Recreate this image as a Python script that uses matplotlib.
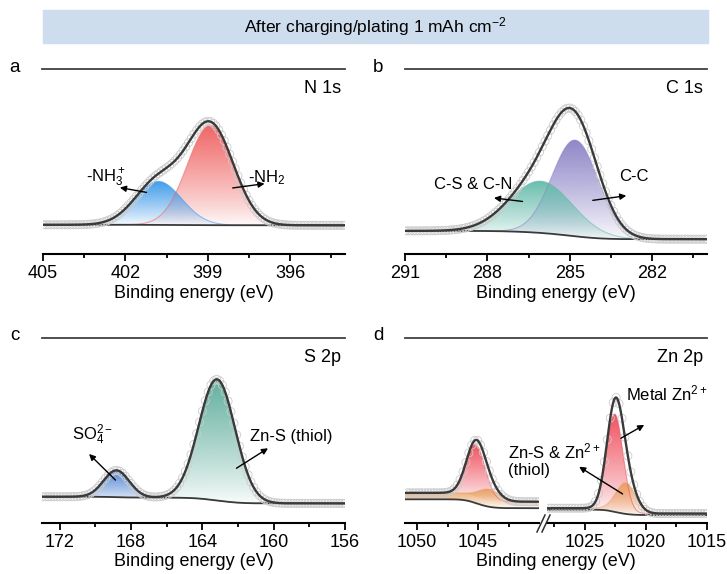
import matplotlib
matplotlib.use("Agg")
import matplotlib.pyplot as plt
import numpy as np
from matplotlib.colors import to_rgb
from matplotlib.lines import Line2D
from matplotlib.patches import Rectangle

plt.rcParams["font.family"] = ["Liberation Sans", "DejaVu Sans"]
plt.rcParams["mathtext.fontset"] = "custom"
plt.rcParams["mathtext.rm"] = "Liberation Sans"
plt.rcParams["mathtext.it"] = "Liberation Sans:italic"
plt.rcParams["mathtext.default"] = "regular"

W, H = 727, 574

# fitted peaks: centre (eV), height, sigma (eV); background at high / low BE end
n1s_names = ["-NH$_2$", "-NH$_3^+$"]
n1s_centers = [398.9, 400.8]
n1s_heights = [0.54, 0.235]
n1s_sigmas = [0.84, 0.85]
n1s_colors = ["#F06262", "#3F9BEA"]
n1s_bg = (0.158, 0.155)

c1s_names = ["C-C", "C-S & C-N"]
c1s_centers = [284.8, 286.05]
c1s_heights = [0.52, 0.28]
c1s_sigmas = [0.84, 1.15]
c1s_colors = ["#8C84C6", "#66BCAB"]
c1s_bg = (0.125, 0.08)

s2p_names = ["SO$_4^{2-}$", "Zn-S (thiol)"]
s2p_centers = [168.82, 163.18]
s2p_heights = [0.145, 0.655]
s2p_sigmas = [0.72, 1.02]
s2p_colors = ["#4B80D2", "#5FAE9C"]
s2p_bg = (0.142, 0.106)

# Zn 2p: red = metal Zn, orange = Zn-S & Zn2+ (thiol)
zn_colors = ["#F0505E", "#E9A05E"]
zn_half_centers = [1045.2, 1044.1]
zn_half_heights = [0.28, 0.06]
zn_half_sigmas = [0.78, 0.85]
zn_half_bg = (0.128, 0.08)
zn_half_plateau = 0.035
zn_three_half_centers = [1022.55, 1021.65]
zn_three_half_heights = [0.52, 0.16]
zn_three_half_sigmas = [0.68, 0.8]
zn_three_half_bg = (0.072, 0.043)
zn_three_half_plateau = 0.008


def gauss(x, c, h, s):
    return h * np.exp(-0.5 * ((x - c) / s) ** 2)


def gradient_fill(ax, x, floor, top, color, zorder):
    poly = ax.fill_between(x, floor, top, facecolor="none", edgecolor="none")
    y0, y1 = floor.min(), top.max()
    rgba = np.zeros((256, 1, 4))
    rgba[..., :3] = to_rgb(color)
    rgba[:, 0, 3] = 0.03 + 0.95 * np.linspace(0, 1, 256) ** 0.85
    im = ax.imshow(rgba, extent=[x.min(), x.max(), y0, y1], origin="lower",
                   aspect="auto", interpolation="bilinear", zorder=zorder)
    im.set_clip_path(poly.get_paths()[0], transform=ax.transData)


def spectrum(ax, lo, hi, every, centers, heights, sigmas, colors, bg_ends,
             plateau=0.0, broad=None):
    x = np.arange(lo, hi + 0.01, 0.02)
    comps = np.array([gauss(x, c, h, s) for c, h, s in zip(centers, heights, sigmas)])
    area = np.cumsum(comps.sum(axis=0))
    bg = bg_ends[1] + (bg_ends[0] - bg_ends[1]) * area / area[-1]
    base = bg + plateau
    for i, (comp, col) in enumerate(zip(comps, colors)):
        floor = bg if i == broad else base
        gradient_fill(ax, x, floor, base + comp, col, zorder=2 + i * 0.1)
        ax.plot(x, base + comp, color=col, lw=0.8, alpha=0.55, zorder=3)
    env = base + comps.sum(axis=0)
    ax.plot(x, bg, color="#3a3a3a", lw=1.3, zorder=4)
    ax.scatter(x[::every], env[::every], s=34, facecolors="none",
               edgecolors="#cbcbcb", linewidths=0.6, zorder=5)
    ax.plot(x, env, color="#3a3a3a", lw=1.7, zorder=6)


def style_axis(ax, xlim, major, minor):
    ax.set_xlim(*xlim)
    ax.set_ylim(0, 1)
    for side in ("left", "right", "top"):
        ax.spines[side].set_visible(False)
    ax.spines["bottom"].set_linewidth(1.5)
    ax.set_yticks([])
    ax.set_xticks(major)
    ax.set_xticks(minor, minor=True)
    ax.tick_params(axis="x", which="major", length=5, width=1.3, labelsize=13, pad=3)
    ax.tick_params(axis="x", which="minor", length=3, width=1.3)
    ax.patch.set_visible(False)


def arrow(ax, tail, head):
    ax.annotate("", xy=head, xytext=tail,
                arrowprops=dict(arrowstyle="-|>", color="black", lw=1.0,
                                mutation_scale=9, shrinkA=0, shrinkB=0), zorder=8)


def box(px0, py0, px1, py1):
    return [px0 / W, 1 - py1 / H, (px1 - px0) / W, (py1 - py0) / H]


fig = plt.figure(figsize=(W / 100, H / 100), dpi=100)

# header banner
fig.add_artist(Rectangle((43 / W, 1 - 43 / H), 665 / W, 33 / H,
                         transform=fig.transFigure, color="#CEDDEE", zorder=0))
fig.text(375.5 / W, 1 - 26.5 / H, "After charging/plating 1 mAh cm$^{-2}$",
         ha="center", va="center", fontsize=12.5)

# panel frames: top rule, letter, core level, axis title
frames = [
    ("a", "N 1s", 42, 345, 69, 254),
    ("b", "C 1s", 405, 707, 69, 254),
    ("c", "S 2p", 42, 345, 338, 523),
    ("d", "Zn 2p", 405, 707, 338, 523),
]
for letter, core, x0, x1, ytop, ybot in frames:
    fig.add_artist(Line2D([x0 / W, x1 / W], [1 - ytop / H] * 2,
                          transform=fig.transFigure, color="#404040", lw=1.3))
    fig.text((x0 - 27) / W, 1 - (ytop - 2) / H, letter, ha="center", va="center",
             fontsize=13.5)
    fig.text((x1 - 4) / W, 1 - (ytop + 20) / H, core, ha="right", va="center",
             fontsize=13)
    fig.text((x0 + x1) / 2 / W, 1 - (ybot + 39) / H, "Binding energy (eV)",
             ha="center", va="center", fontsize=13)

# a: N 1s
ax = fig.add_axes(box(43, 69, 345, 254))
spectrum(ax, 394, 405, 5, n1s_centers, n1s_heights, n1s_sigmas, n1s_colors, n1s_bg)
style_axis(ax, (405, 394), [405, 402, 399, 396], [403.5, 400.5, 397.5, 394.5])
ax.text(402.72, 0.413, n1s_names[1], ha="center", va="center", fontsize=12)
arrow(ax, (401.23, 0.333), (402.2, 0.359))
ax.text(396.83, 0.413, n1s_names[0], ha="center", va="center", fontsize=12)
arrow(ax, (398.09, 0.357), (396.93, 0.380))

# b: C 1s
ax = fig.add_axes(box(405, 69, 707, 254))
spectrum(ax, 280, 291, 5, c1s_centers, c1s_heights, c1s_sigmas, c1s_colors, c1s_bg)
style_axis(ax, (291, 280), [291, 288, 285, 282], [289.5, 286.5, 283.5, 280.5])
ax.text(288.52, 0.375, c1s_names[1], ha="center", va="center", fontsize=12)
arrow(ax, (286.72, 0.284), (287.76, 0.303))
ax.text(282.67, 0.42, c1s_names[0], ha="center", va="center", fontsize=12)
arrow(ax, (284.16, 0.29), (282.94, 0.315))

# c: S 2p
ax = fig.add_axes(box(42, 338, 345, 523))
spectrum(ax, 156, 173, 8, s2p_centers, s2p_heights, s2p_sigmas, s2p_colors, s2p_bg)
style_axis(ax, (173, 156), [172, 168, 164, 160, 156], [170, 166, 162, 158])
ax.text(170.15, 0.476, s2p_names[0], ha="center", va="center", fontsize=12)
arrow(ax, (168.88, 0.232), (170.36, 0.373))
ax.text(159.0, 0.466, s2p_names[1], ha="center", va="center", fontsize=12)
arrow(ax, (162.09, 0.296), (160.32, 0.404))

# d: Zn 2p with a broken energy axis
ax_l = fig.add_axes(box(405, 338, 539, 523))
spectrum(ax_l, 1040, 1051, 12, zn_half_centers, zn_half_heights, zn_half_sigmas,
         zn_colors, zn_half_bg, plateau=zn_half_plateau, broad=1)
style_axis(ax_l, (1051, 1040), [1050, 1045], [1047.5, 1042.5])

ax_r = fig.add_axes(box(547, 338, 707, 523))
spectrum(ax_r, 1015, 1028.1, 12, zn_three_half_centers, zn_three_half_heights,
         zn_three_half_sigmas, zn_colors, zn_three_half_bg,
         plateau=zn_three_half_plateau, broad=1)
style_axis(ax_r, (1028.1, 1015), [1025, 1020, 1015], [1027.5, 1022.5, 1017.5])

for dx in (0, 5):
    fig.add_artist(Line2D([(537 + dx) / W, (545 + dx) / W], [1 - 532 / H, 1 - 515 / H],
                          transform=fig.transFigure, color="#303030", lw=1.1))

ax_r.text(1018.28, 0.70, "Metal Zn$^{2+}$", ha="center", va="center", fontsize=12)
arrow(ax_r, (1022.05, 0.458), (1020.14, 0.53))
ax_r.text(1031.3, 0.389, "Zn-S & Zn$^{2+}$", ha="left", va="center", fontsize=12)
ax_r.text(1031.3, 0.286, "(thiol)", ha="left", va="center", fontsize=12)
arrow(ax_r, (1021.91, 0.157), (1025.47, 0.304))

fig.savefig("out.png", dpi=100)
